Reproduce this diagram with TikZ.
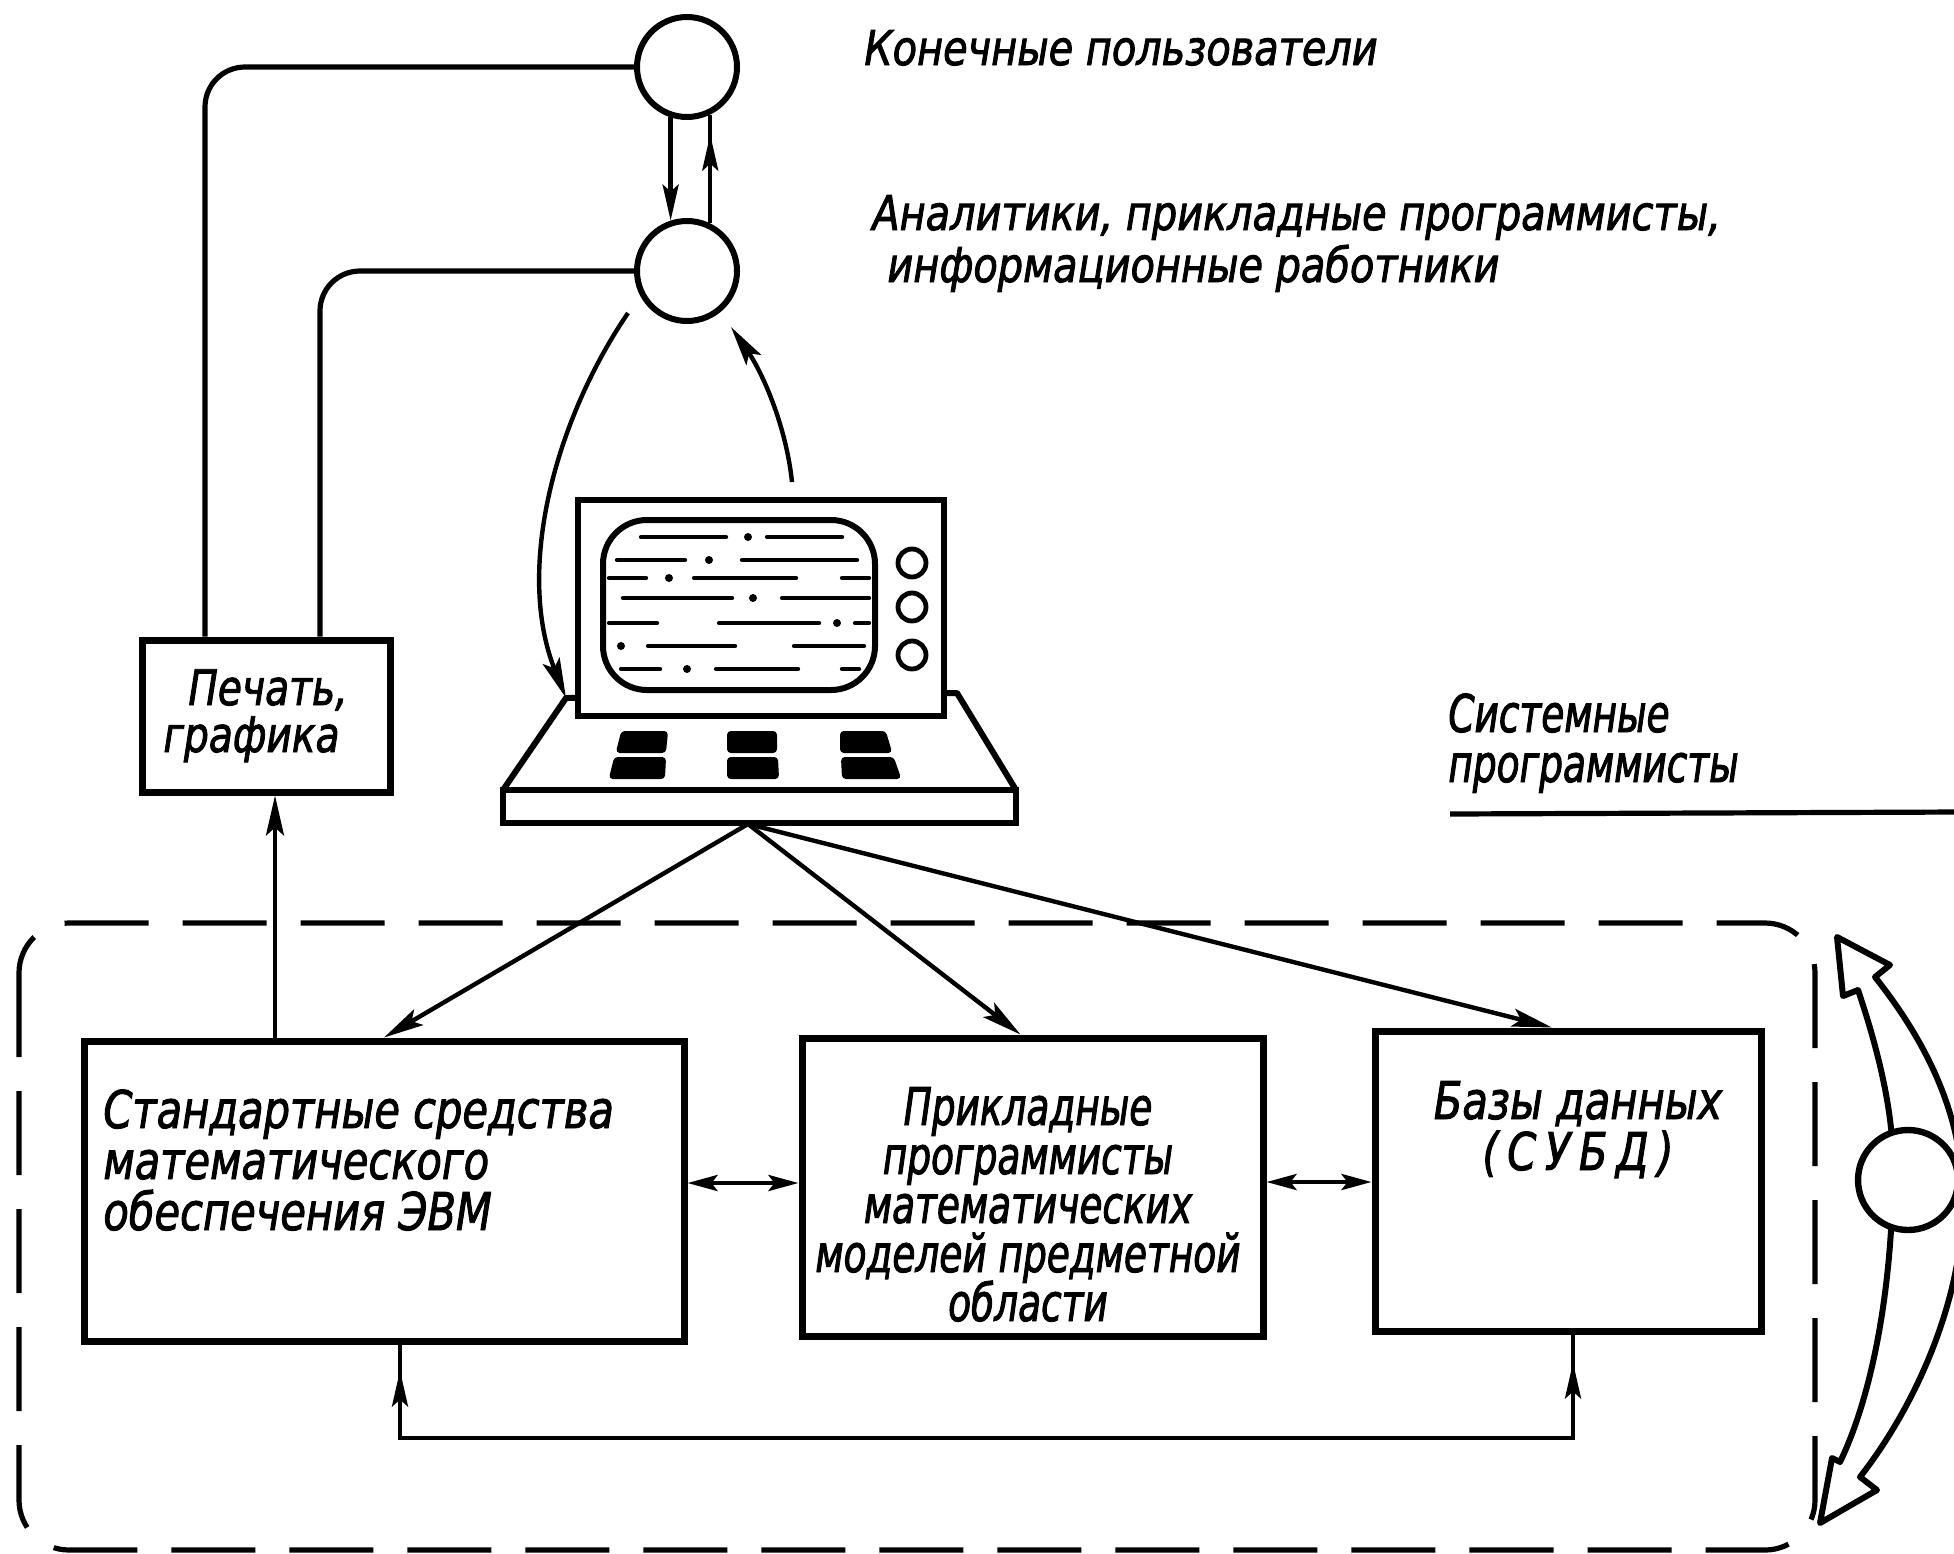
\documentclass[tikz,border=0pt]{standalone}
\usepackage{fontspec}
\newfontfamily\gost{DejaVu Sans}[FakeStretch=0.8, FakeBold=1.8]
\newfontfamily\gostn{DejaVu Sans}[FakeStretch=0.72, FakeBold=1.8]
\newfontfamily\gostw{DejaVu Sans}[FakeStretch=0.83, FakeBold=1.8]
\newcommand\gtight{\lineskiplimit=-30pt\relax}
\usetikzlibrary{arrows.meta,calc}
\begin{document}
\begin{tikzpicture}[x=0.5pt,y=-0.5pt,
  txt/.style={font={\gost\itshape\fontsize{26}{25.5}\selectfont\gtight}, anchor=base west, inner sep=0pt},
  txtn/.style={font={\gostn\itshape\fontsize{26}{24.5}\selectfont\gtight}, anchor=base west, inner sep=0pt},
  txtsm/.style={font={\gostw\itshape\fontsize{24}{26}\selectfont\gtight}, anchor=base west, inner sep=0pt},
  blk/.style={draw, line width=3.5pt, inner sep=0pt},
  role/.style={draw, circle, line width=3pt, minimum size=50pt, inner sep=0pt, fill=white},
  conn/.style={line width=2.2pt},
  arr/.style={line width=2.2pt, -{Stealth[length=20pt,width=9pt,inset=4pt]}},
  arrs/.style={line width=2.2pt, -{Stealth[length=18pt,width=8pt,inset=3.5pt]}},
  arrd/.style={line width=2.2pt, {Stealth[length=15pt,width=8pt,inset=3pt]}-{Stealth[length=15pt,width=8pt,inset=3pt]}},
  frame/.style={line width=2.6pt, dash pattern=on 42pt off 17pt, rounded corners=25pt},
  scan/.style={line width=2.2pt, line cap=round},
  keycap/.style={fill=black, draw=black, line width=1pt, rounded corners=1.5pt},
  hollow/.style={line width=3pt, line join=round, fill=white}]
\useasboundingbox (0,0) rectangle (1954,1553);
\clip (0,0) rectangle (1954,1553);

% ---- user groups (circles) ----
\node[role] (eu) at (687,67) {};
\node[role] (an) at (687,271) {};
% multi-line labels are placed by the baseline of their last line
\node[txtsm] (t-eu) at (864,65) {Конечные пользователи};
\node[txtsm, align=left] (t-an) at (872,282)
  {Аналитики, прикладные программисты,\\\hspace*{7.5pt}информационные работники};

\draw[arrs] (eu.252) -- (an.108);
\draw[conn] (an.64) -- (eu.296);
\draw[arrs, shorten >=10pt] (an.64) -- (eu.296);

% ---- printing / graphics ----
\node[blk, minimum width=124pt, minimum height=76pt] (prn) at (266,716) {};
\node[txt, align=left, font={\gost\itshape\fontsize{24.5}{23.5}\selectfont\gtight}]
  (t-prn) at (163,752) {\hspace*{12.5pt}Печать,\\графика};

\coordinate (o1) at (205,0);
\coordinate (o2) at (320,0);
\draw[conn, line width=2.6pt, rounded corners=20pt] (eu.west) -| (prn.north -| o1);
\draw[conn, line width=2.6pt, rounded corners=20pt] (an.west) -| (prn.north -| o2);

% ---- terminal ----
\coordinate (kbl) at (566,698);
\coordinate (kbr) at (957,693);
\draw[line width=3pt, line join=round, fill=white]
  (kbl) -- (kbr) -- (1016,790) -- (503,790) -- cycle;
\draw[line width=3pt, fill=white] (503,790) rectangle (1016,823);
\node[draw, line width=3.2pt, fill=white, minimum width=183pt, minimum height=108pt,
      inner sep=0pt] (mon) at (761,608) {};
\draw[line width=3pt, rounded corners=22pt] (603,520) rectangle (875,690);
\foreach \ky in {563,607,655}
  \draw[line width=2.4pt] (912,\ky) circle (7pt);
% text lines on the screen
\foreach \xa/\xb/\yy in {641/726/537, 767/842/537,
    617/685/560, 742/857/560,
    609/646/578, 694/796/578, 842/869/578,
    623/732/598, 782/869/598,
    609/657/623, 719/819/623, 855/869/623,
    648/735/646, 794/864/646,
    621/660/669, 716/798/669, 842/859/669}
  \draw[scan] (\xa,\yy) -- (\xb,\yy);
\foreach \dx/\dy in {748/537, 709/560, 669/578, 753/598, 837/623, 621/646, 687/669}
  \fill (\dx,\dy) circle (2pt);
% keys
\draw[keycap] (622,732) -- (667,732) -- (665,752) -- (617,752) -- cycle;
\draw[keycap] (728,732) -- (776,732) -- (776,752) -- (728,752) -- cycle;
\draw[keycap] (841,732) -- (885,732) -- (891,752) -- (841,752) -- cycle;
\draw[keycap] (615,758) -- (665,758) -- (664,778) -- (610,778) -- cycle;
\draw[keycap] (728,758) -- (777,758) -- (778,778) -- (728,778) -- cycle;
\draw[keycap] (842,758) -- (893,758) -- (900,778) -- (843,778) -- cycle;

% dialogue between analysts and terminal
\coordinate (c1) at (628,313);
\coordinate (c2) at (731,327);
\coordinate (c3) at (792,482);
\draw[arr] (c1) .. controls (555,420) and (515,570) .. (kbl);
\draw[arr] (c3) .. controls (786,425) and (762,372) .. (c2);

% ---- system programmers ----
\node[txtn, align=left, font={\gostn\itshape\fontsize{26}{25}\selectfont\gtight}]
  (t-sys) at (1448,782) {Системные\\программисты};
\coordinate (ul1) at (1450,814);
\coordinate (ul2) at (1960,812);
\draw[conn, line width=2.6pt] (ul1) -- (ul2);

% ---- software system (dashed frame) ----
\draw[frame] (19,923) rectangle (1815,1550);

\node[blk, minimum width=300pt, minimum height=150pt] (std) at (384,1191) {};
\node[blk, minimum width=230.5pt, minimum height=149pt] (mid) at (1032.5,1187) {};
\node[blk, minimum width=193pt, minimum height=150pt] (db) at (1568,1181) {};

\node[txt, align=left] (t-std) at (103,1230)
  {Стандартные средства\\математического\\обеспечения ЭВМ};
\node[txtn, align=center, anchor=base] (t-mid) at (1028,1321)
  {Прикладные\\программисты\\математических\\моделей предметной\\области};
\node[txt, align=center, anchor=base] (t-db) at (1578,1170)
  {Базы данных\\(\,С\,У\,Б\,Д\,)};

% fan of requests from the terminal
\coordinate (fan) at (748,824);
\draw[arr] (fan) -- (std.north);
\draw[arr] (fan) -- ([xshift=-6pt]mid.north);
\draw[arr] (fan) -- ([xshift=-8pt]db.north);

% output to printing
\coordinate (pa) at (275,0);
\draw[arr] (std.north -| pa) -- (prn.south -| pa);

% exchanges between the blocks
\coordinate (r1) at (0,1183);
\coordinate (r2) at (0,1182);
\draw[arrd] (std.east |- r1) -- (mid.west |- r1);
\draw[arrd] (mid.east |- r2) -- (db.west |- r2);

% feedback loop under the blocks
\coordinate (fbL) at (400,1438);
\coordinate (fbR) at (1573,1438);
\draw[conn] (std.south -| fbL) -- (fbL) -- (fbR) -- (db.south -| fbR);
\draw[arrs, shorten >=13pt] (fbL) -- (std.south -| fbL);
\draw[arrs, shorten >=14pt] (fbR) -- (db.south -| fbR);

% ---- system programmers' two-way link ----
\draw[hollow]
  (1858,990) .. controls (1885,1070) and (1895,1130) .. (1893,1180)
  .. controls (1891,1300) and (1870,1400) .. (1840,1462)
  -- (1832,1458) -- (1820,1523) -- (1877,1490) -- (1860,1477)
  .. controls (1920,1400) and (1966,1290) .. (1963,1190)
  .. controls (1960,1110) and (1925,1040) .. (1875,977)
  -- (1890,965) -- (1837,937) -- (1843,996) -- cycle;
\node[role, line width=3.2pt] (sp) at (1908,1180) {};
\end{tikzpicture}
\end{document}
